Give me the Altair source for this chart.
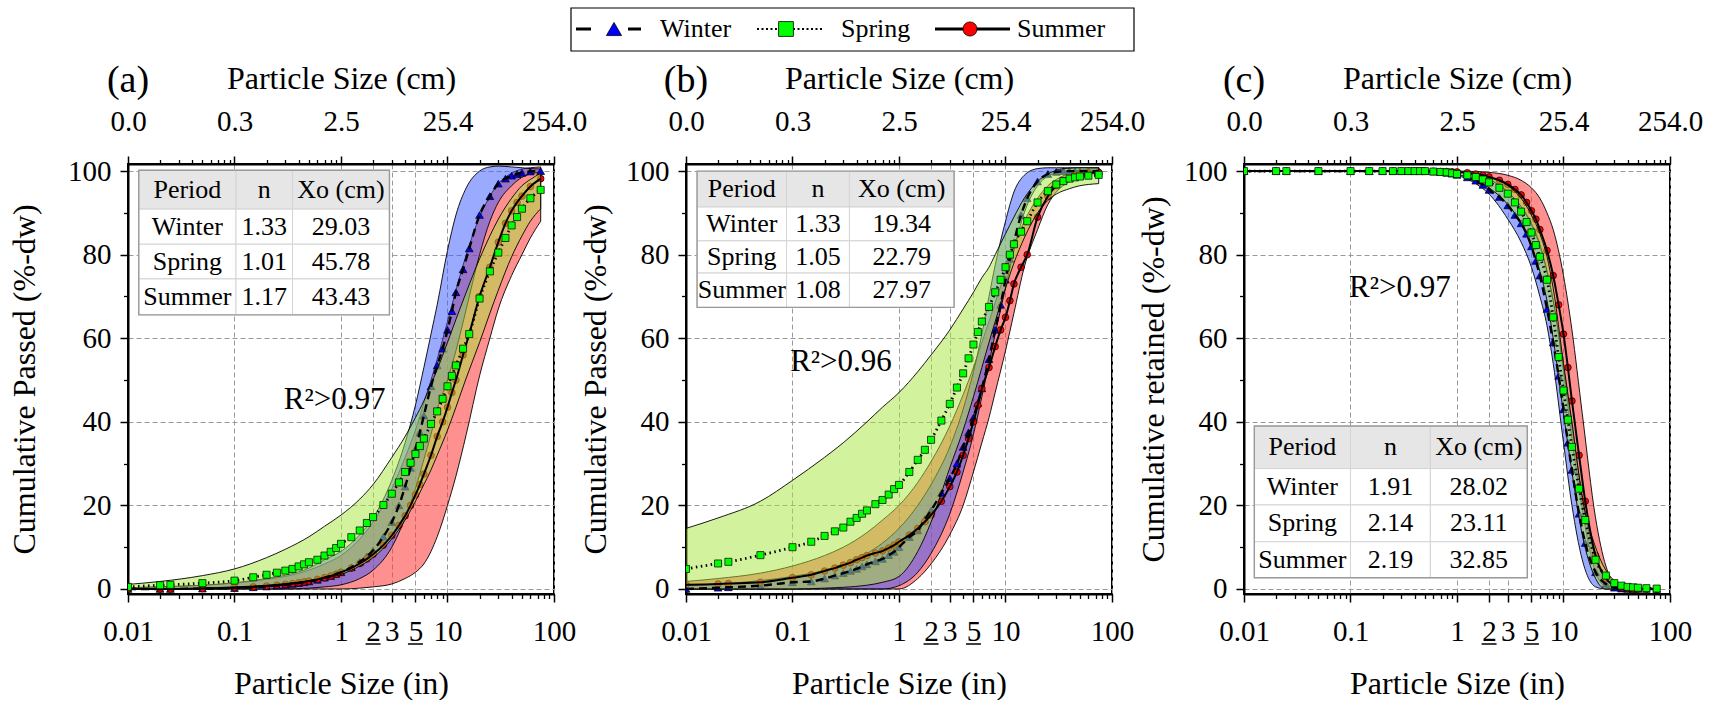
import math
import altair as alt
import pandas as pd

FONT = "Liberation Serif, Times New Roman, Times, DejaVu Serif, serif"
W, H = 426, 430
XDOM = [0.01, 100]
YDOM = [-1.2, 101.7]

# ---------------- data ----------------
x_in = [0.01, 0.02, 0.025, 0.05, 0.1, 0.15, 0.2, 0.25, 0.3, 0.35, 0.4, 0.45, 0.5,
        0.6, 0.7, 0.8, 0.9, 1.0, 1.25, 1.5, 1.75, 2, 2.5, 3, 3.5, 4, 4.5, 5, 5.5, 6,
        7, 8, 9, 10, 11, 12, 14, 16, 20, 25, 30, 35, 40, 45, 50, 60, 75]
band_x = [0.01, 0.02, 0.05, 0.1, 0.2, 0.3, 0.5, 0.7, 1, 1.5, 2, 3, 4, 5, 6, 7, 8,
          10, 12, 15, 20, 25, 30, 40, 50, 60, 75]

# panel (a)
a_winter = [0, 0, 0, 0.1, 0.2, 0.4, 0.6, 0.8, 1.0, 1.2, 1.4, 1.6, 1.8,
            2.2, 2.7, 3.1, 3.6, 4.0, 5.2, 6.5, 7.8, 9.2,
            12.5, 16, 20, 24.5, 29, 33.5, 37.5, 41.5,
            48.5, 53.5, 57.5, 62, 66.5, 71, 76.5, 81.5,
            89.5, 94, 97, 98.2, 98.9, 99.3, 99.6, 99.9, 100]
a_spring = [0.5, 0.9, 1.0, 1.4, 2.0, 2.8, 3.4, 3.9, 4.4, 4.8, 5.4, 5.9, 6.4,
            7.0, 8.0, 8.9, 9.8, 10.8, 12.4, 14.0, 15.8, 17.2,
            20.1, 22.8, 25.5, 28, 30.2, 32.3, 34.2, 36,
            39.5, 42.5, 45.5, 48.5, 51, 53.5, 57.5, 61,
            69.5, 76, 80.5, 84, 87, 89, 91, 93.5, 95.5]
a_summer = [0, 0, 0, 0.1, 0.3, 0.5, 0.7, 0.9, 1.1, 1.3, 1.5, 1.7, 1.9,
            2.3, 2.7, 3.1, 3.5, 4.0, 5.0, 6.1, 7.2, 8.3,
            10.5, 12.8, 15.2, 17.5, 20, 22.5, 25, 27.5,
            32, 36.5, 40, 43.5, 47, 50, 56, 61,
            70, 77, 83, 87.5, 90.5, 92.5, 94, 96.3, 98.2]
a_winter_lo = [0, 0, 0, 0, 0, 0, 0.2, 0.5, 1, 2.5, 4.5, 10, 17, 24, 31, 37, 43, 50, 57, 67, 80, 88, 92.5, 96.5, 98.5, 99.3, 99.7]
a_winter_hi = [0.3, 0.5, 0.9, 1.5, 2.5, 3.3, 5, 7, 9, 13, 17, 26, 35, 44, 53, 61, 68, 81, 89.5, 96, 100, 101, 101.2, 101, 100.8, 100.6, 100.5]
a_spring_lo = [0, 0, 0.2, 0.5, 0.9, 1.3, 2, 2.6, 3.5, 5.5, 7.5, 12, 16.5, 21, 25, 28.5, 32, 38, 43.5, 50.5, 59, 66, 71.5, 79.5, 84.5, 88, 91]
a_spring_hi = [1.1, 1.8, 3.2, 4.8, 7.5, 9.5, 12.5, 15, 17.7, 21.5, 25, 31.5, 36.5, 41, 45, 49, 52.5, 59, 64.5, 71, 79, 84.5, 88.5, 93.5, 96.5, 98, 99.5]
a_summer_lo = [0, 0, 0, 0, 0, 0, 0, 0, 0, 0.2, 0.5, 1.2, 2.5, 4, 6, 9, 12.5, 20, 27, 37, 51, 60, 67, 75, 80, 84, 88]
a_summer_hi = [0.3, 0.5, 0.9, 1.4, 2.3, 3, 4.5, 6, 8, 12, 16, 24, 31.5, 38, 44.5, 50, 55, 64, 71.5, 80, 89, 94, 97, 99.5, 100.5, 100.8, 101]

# panel (b)
b_winter = [0, 0.3, 0.4, 0.8, 1.6, 1.8, 2.5, 3.2, 3.8, 4.3, 4.8, 5.4, 5.9,
            6.6, 7.2, 8.1, 8.9, 10, 12.4, 14, 16.7, 18.8,
            23, 26.5, 30, 34, 37.5, 41, 44.5, 48,
            55, 62, 68, 74, 79, 83, 89.5, 93.5,
            97.5, 99.3, 99.8, 100, 100, 100, 100, 100, 100]
b_spring = [4.8, 6.1, 6.5, 8.1, 10, 11.3, 12.7, 13.8, 14.7, 16.1, 17, 18, 18.8,
            20.3, 21.3, 22.6, 23.9, 24.9, 28, 30.9, 33.3, 35.7,
            40.3, 44.3, 48.2, 51.6, 55.2, 58.5, 61.5, 64,
            67.5, 71, 74, 77, 80, 82.5, 85.5, 88,
            92.5, 95.2, 96.8, 97.6, 98.2, 98.5, 98.7, 98.9, 99.1]
b_summer = [1.0, 1.2, 1.3, 1.6, 2.7, 3.4, 4.3, 5.0, 5.7, 6.3, 7.0, 7.5, 8.0,
            8.6, 9.1, 9.8, 10.5, 11.3, 12.9, 14.5, 16.1, 17.7,
            21, 24.5, 28, 32, 36, 40, 44, 48,
            53, 58, 62, 65, 69, 73, 77, 80,
            89, 94, 96.5, 97.8, 98.5, 99, 99.2, 99.5, 99.7]
b_winter_lo = [0, 0, 0, 0, 0, 0, 0, 0, 0.8, 4, 8.5, 18, 28, 37, 46, 54, 61, 72, 81, 90, 96.5, 98.8, 99.6, 100, 100, 100, 100]
b_winter_hi = [0.8, 1.2, 2, 3, 4.5, 6, 8.5, 11, 14.5, 20, 25, 34, 43, 52, 61, 70, 77.5, 88, 95, 99, 100.6, 100.8, 100.8, 100.8, 100.8, 100.8, 100.8]
b_spring_lo = [0, 0, 0, 0, 0.2, 0.4, 0.9, 1.6, 3, 9, 16, 29, 38, 46, 53, 59, 64, 72, 78, 84, 90, 93, 94.5, 95.8, 96.5, 96.8, 97]
b_spring_hi = [14.5, 17, 21, 26, 31.5, 35, 40, 43.5, 47, 52, 56, 62, 67, 71, 74.5, 77, 80, 85, 89, 93.5, 97.5, 99.3, 100.2, 100.7, 100.8, 100.8, 100.8]
b_summer_lo = [0, 0, 0, 0, 0, 0, 0, 0, 0, 2.5, 6, 13, 20, 28, 35, 41, 47, 57, 66, 77, 86, 92, 95, 97.5, 98.8, 99.3, 99.6]
b_summer_hi = [1.8, 2.5, 3.8, 5.5, 8, 10, 13.5, 16.5, 20, 25.5, 30.5, 39, 46.5, 53, 59, 64, 68.5, 76, 82, 88, 93.5, 96.5, 98, 99.5, 100.2, 100.5, 100.7]

# panel (c)
c_winter = [100, 100, 100, 100, 100, 100, 100, 100, 100, 100, 100, 100, 100,
            99.9, 99.8, 99.6, 99.4, 99.1, 98.5, 97.7, 96.7, 95.5,
            93.8, 91.8, 89.5, 87.5, 85, 82, 78.5, 75,
            67, 59, 51, 43, 35, 28.5, 18, 11,
            4, 1.2, 0.3, 0.1, 0, 0, 0, 0, 0]
c_spring = [100, 100, 100, 100, 100, 100, 100, 100, 100, 100, 100, 100, 100,
            99.9, 99.8, 99.7, 99.5, 99.3, 99, 98.6, 98, 97.3,
            96, 94.6, 92.5, 90.3, 87.8, 85.3, 82.3, 79.5,
            74, 65, 55.5, 47.5, 40.5, 34, 24, 16.5,
            7, 3.2, 1.4, 0.8, 0.5, 0.4, 0.3, 0.2, 0.1]
c_summer = [100, 100, 100, 100, 100, 100, 100, 100, 100, 100, 100, 100, 100,
            99.95, 99.9, 99.9, 99.85, 99.8, 99.6, 99.3, 99, 98.6,
            97.8, 96.8, 95.6, 94.3, 92.5, 90.5, 88.5, 86,
            81, 75, 68, 61, 53, 45, 32, 21,
            8, 2.5, 0.8, 0.3, 0.1, 0, 0, 0, 0]
c_winter_lo = [100, 100, 100, 100, 100, 100, 99.9, 99.7, 99, 97, 94.5, 88.5, 83, 77, 70, 63, 54, 35, 20, 7, 0.5, 0, 0, 0, 0, 0, 0]
c_winter_hi = [100, 100, 100, 100, 100, 100, 100, 100, 99.8, 99, 98, 95, 91.5, 87.5, 82.5, 76, 69, 53, 39, 22, 7.5, 2.5, 0.8, 0, 0, 0, 0]
c_spring_lo = [100, 100, 100, 100, 100, 100, 100, 99.8, 99.2, 97.8, 96, 92, 87.5, 82, 76, 69, 60, 42, 28, 13, 2.5, 0, 0, 0, 0, 0, 0]
c_spring_hi = [100, 100, 100, 100, 100, 100, 100, 100, 99.8, 99.2, 98.5, 96.5, 93.5, 89.5, 85, 79.5, 72, 54, 40, 22, 10, 4.5, 2, 0.6, 0.2, 0.1, 0]
c_summer_lo = [100, 100, 100, 100, 100, 100, 100, 100, 99.7, 99, 98, 95, 91.5, 87, 82, 76, 69, 52, 36, 19, 4, 0.5, 0, 0, 0, 0, 0]
c_summer_hi = [100, 100, 100, 100, 100, 100, 100, 100, 100, 99.9, 99.7, 99, 97.8, 96, 93.5, 90, 86, 75, 62, 42, 17, 5.5, 1.5, 0.2, 0, 0, 0]

# table contents
periods = ["Winter", "Spring", "Summer"]
table_head = ["Period", "n", "Xo (cm)"]
n_a = [1.33, 1.01, 1.17]
xo_a = [29.03, 45.78, 43.43]
n_b = [1.33, 1.05, 1.08]
xo_b = [19.34, 22.79, 27.97]
n_c = [1.91, 2.14, 2.19]
xo_c = [28.02, 23.11, 32.85]

# ticks
bottom_major = [0.01, 0.1, 1, 2, 3, 5, 10, 100]
underlined = [2, 5]
top_major = [0.01, 0.1, 1, 10, 100]
y_major = [0, 20, 40, 60, 80, 100]
y_minor = [10, 30, 50, 70, 90]

# ---------------- layout / style ----------------
top_minor = [round(k * 10 ** d, 6) for d in range(-2, 2) for k in range(2, 10)]
bottom_minor = [v for v in top_minor if v not in bottom_major]

WINTER_BAND = "#3355ff"
SPRING_BAND = "#a8e63c"
SUMMER_BAND = "#ff3535"
PX_PER_DECADE = W / 4.0

xsc = alt.Scale(type="log", domain=XDOM, nice=False)
ysc = alt.Scale(domain=YDOM, nice=False, zero=False)


def X(f="x"):
    return alt.X(f"{f}:Q", scale=xsc, axis=None)


def Y(f="y"):
    return alt.Y(f"{f}:Q", scale=ysc, axis=None)


dummy = pd.DataFrame({"x": [0.01, 100.0], "y": [0.0, 100.0]})
one = pd.DataFrame({"k": [0]})

common = dict(labelFont=FONT, titleFont=FONT, labelColor="black", titleColor="black",
              titleFontWeight="normal", tickColor="black", domainColor="black")


def axis_layers(ytitle, ytitle_pad):
    major = alt.Chart(dummy).mark_point(opacity=0).encode(
        x=alt.X("x:Q", scale=xsc, axis=alt.Axis(
            orient="bottom", values=bottom_major, labelExpr="format(datum.value, '~g')",
            title="Particle Size (in)", grid=True, gridDash=[5, 3], gridColor="#9a9a9a",
            tickSize=8, tickWidth=1.5, labelFontSize=29, titleFontSize=32, labelPadding=15,
            titlePadding=22, labelFlush=False, labelOverlap=False, domainWidth=2, **common)),
        y=alt.Y("y:Q", scale=ysc, axis=alt.Axis(
            orient="left", values=y_major, title=ytitle, grid=True, gridDash=[5, 3],
            gridColor="#9a9a9a", tickSize=8, tickWidth=1.5, labelFontSize=29, titleFontSize=32,
            labelPadding=9, titlePadding=ytitle_pad, domainWidth=2, labelFlush=False, **common)),
    )
    bminor = alt.Chart(dummy).mark_point(opacity=0).encode(
        x=alt.X("x:Q", scale=xsc, axis=alt.Axis(
            orient="bottom", values=bottom_minor, labels=False, title=None, grid=False,
            domain=False, tickSize=4.5, tickWidth=1.3, tickColor="black")),
        y=alt.Y("y:Q", scale=ysc, axis=alt.Axis(
            orient="left", values=y_minor, labels=False, title=None, grid=False,
            domain=False, tickSize=4.5, tickWidth=1.3, tickColor="black")),
    )
    top = alt.Chart(dummy).mark_point(opacity=0).encode(
        x=alt.X("x:Q", scale=xsc, axis=alt.Axis(
            orient="top", values=top_major, labelExpr="format(datum.value * 2.54, '.1f')",
            title="Particle Size (cm)", grid=False, tickSize=8, tickWidth=1.5,
            labelFontSize=29, titleFontSize=32, labelPadding=20, titlePadding=12,
            labelFlush=False, labelOverlap=False, domainWidth=2, **common)),
        y=alt.Y("y:Q", scale=ysc, axis=None),
    )
    tminor = alt.Chart(dummy).mark_point(opacity=0).encode(
        x=alt.X("x:Q", scale=xsc, axis=alt.Axis(
            orient="top", values=top_minor, labels=False, title=None, grid=False,
            domain=False, tickSize=4.5, tickWidth=1.3, tickColor="black")),
        y=alt.Y("y:Q", scale=ysc, axis=None),
    )
    half = 10 ** (7.5 / PX_PER_DECADE)
    udf = pd.DataFrame({"x": [v / half for v in underlined], "x2": [v * half for v in underlined]})
    under = alt.Chart(udf).mark_rule(color="black", strokeWidth=1.5).encode(
        x=X("x"), x2="x2:Q", y=alt.value(H + 50))
    return [major, bminor, top, tminor, under]


def band(lo, hi, color, op):
    df = pd.DataFrame({"x": band_x, "lo": lo, "hi": hi})
    return alt.Chart(df).mark_area(
        color=color, fillOpacity=op, stroke="black", strokeWidth=0.9,
        interpolate="monotone", clip=True
    ).encode(x=X(), y=Y("lo"), y2=alt.Y2("hi:Q"))


def points(yv, shape, fill, size):
    df = pd.DataFrame({"x": x_in, "y": yv})
    return alt.Chart(df).mark_point(
        shape=shape, filled=True, fill=fill, stroke="black", strokeWidth=0.7,
        size=size, opacity=1, clip=True
    ).encode(x=X(), y=Y())


def line(yv, width, dash=None):
    df = pd.DataFrame({"x": x_in, "y": yv})
    kw = dict(color="black", strokeWidth=width, interpolate="monotone", clip=True)
    if dash is not None:
        kw["strokeDash"] = dash
    return alt.Chart(df).mark_line(**kw).encode(x=X(), y=Y())


def table_layers(n_vals, xo_vals, xs, ys):
    rows = [table_head] + [[p, f"{n:.2f}", f"{xo:.2f}"] for p, n, xo in zip(periods, n_vals, xo_vals)]
    recs = []
    for r in range(4):
        for c in range(3):
            recs.append(dict(x=xs[c], x2=xs[c + 1], y=ys[r], y2=ys[r + 1],
                             cx=math.sqrt(xs[c] * xs[c + 1]), cy=(ys[r] + ys[r + 1]) / 2,
                             label=rows[r][c], head=(r == 0)))
    df = pd.DataFrame(recs)
    cells = alt.Chart(df).mark_rect(stroke="#d4d4d4", strokeWidth=1).encode(
        x=X("x"), x2="x2:Q", y=Y("y"), y2="y2:Q",
        fill=alt.condition("datum.head", alt.value("#e6e6e6"), alt.value("white")))
    bdf = pd.DataFrame({"x": [xs[0]], "x2": [xs[-1]], "y": [ys[0]], "y2": [ys[-1]]})
    border = alt.Chart(bdf).mark_rect(filled=False, stroke="#9a9a9a", strokeWidth=1.4).encode(
        x=X("x"), x2="x2:Q", y=Y("y"), y2="y2:Q")
    txt = alt.Chart(df).mark_text(font=FONT, fontSize=26, color="black", align="center",
                                  baseline="middle").encode(x=X("cx"), y=Y("cy"), text="label:N")
    return [cells, border, txt]


def legend_chart():
    # positions are relative to the origin of the first panel's plot area
    ly = 23
    out = [alt.Chart(one).mark_rect(fill="white", stroke="black", strokeWidth=1.2).encode(
        x=alt.value(443), x2=alt.value(1006), y=alt.value(2), y2=alt.value(45))]
    out.append(alt.Chart(one).mark_rule(color="black", strokeWidth=3, strokeDash=[15, 37]).encode(
        x=alt.value(448), x2=alt.value(513), y=alt.value(ly)))
    out.append(alt.Chart(one).mark_point(shape="triangle-up", filled=True, fill="#0000ff", stroke="black",
                                         strokeWidth=0.8, size=230, opacity=1).encode(
        x=alt.value(486), y=alt.value(ly)))
    out.append(alt.Chart(one).mark_rule(color="black", strokeWidth=2, strokeDash=[2, 2.5]).encode(
        x=alt.value(629), x2=alt.value(694), y=alt.value(ly)))
    out.append(alt.Chart(one).mark_point(shape="square", filled=True, fill="#00ff00", stroke="black",
                                         strokeWidth=0.8, size=220, opacity=1).encode(
        x=alt.value(658), y=alt.value(ly)))
    out.append(alt.Chart(one).mark_rule(color="black", strokeWidth=3).encode(
        x=alt.value(807), x2=alt.value(882), y=alt.value(ly)))
    out.append(alt.Chart(one).mark_point(shape="circle", filled=True, fill="#ff0000", stroke="black",
                                         strokeWidth=0.8, size=200, opacity=1).encode(
        x=alt.value(842), y=alt.value(ly)))
    for name, tx in zip(periods, [532, 713, 889]):
        out.append(alt.Chart(one).mark_text(font=FONT, fontSize=26, align="left", baseline="middle",
                                            color="black").encode(
            x=alt.value(tx), y=alt.value(ly), text=alt.value(name)))
    return alt.layer(*out).properties(width=1010, height=46)


def make_panel(w, s, u, wb, sb, ub, n_vals, xo_vals, tab_xs, tab_ys, r2_label, r2_x, r2_y,
               ytitle, ytitle_pad, letter):
    layers = axis_layers(ytitle, ytitle_pad)
    layers += [band(ub[0], ub[1], SUMMER_BAND, 0.55), band(wb[0], wb[1], WINTER_BAND, 0.5)]
    layers += [points(w, "triangle-up", "#0000ff", 60), points(u, "circle", "#ff0000", 45)]
    layers += [band(sb[0], sb[1], SPRING_BAND, 0.5)]
    layers += [line(w, 2.4, [8, 5]), line(u, 2), line(s, 2.8, [1.5, 3.5])]
    layers += [points(s, "square", "#00ff00", 50)]
    layers += table_layers(n_vals, xo_vals, tab_xs, tab_ys)
    r2df = pd.DataFrame({"x": [r2_x], "y": [r2_y], "t": [r2_label]})
    layers.append(alt.Chart(r2df).mark_text(font=FONT, fontSize=31, align="left", baseline="middle",
                                            color="black").encode(x=X(), y=Y(), text="t:N"))
    layers.append(alt.Chart(one).mark_text(font=FONT, fontSize=38, align="center", baseline="middle",
                                           color="black").encode(
        x=alt.value(0), y=alt.value(-83), text=alt.value(letter)))
    return alt.layer(*layers).resolve_axis(x="independent", y="independent").properties(
        width=W, height=H, view=alt.ViewBackground(stroke="black", strokeWidth=2))


pa = make_panel(a_winter, a_spring, a_summer,
                (a_winter_lo, a_winter_hi), (a_spring_lo, a_spring_hi), (a_summer_lo, a_summer_hi),
                n_a, xo_a, [0.01262, 0.1033, 0.3508, 2.851], [100.2, 90.9, 82.5, 74.2, 65.6],
                "R²>0.97", 0.29, 45.3, "Cumulative Passed (%-dw)", 26, "(a)")
pb = make_panel(b_winter, b_spring, b_summer,
                (b_winter_lo, b_winter_hi), (b_spring_lo, b_spring_hi), (b_summer_lo, b_summer_hi),
                n_b, xo_b, [0.0127, 0.0879, 0.3425, 3.29], [100.0, 91.4, 83.3, 75.6, 67.4],
                "R²>0.96", 0.095, 54.3, "Cumulative Passed (%-dw)", 13, "(b)")
pc = make_panel(c_winter, c_spring, c_summer,
                (c_winter_lo, c_winter_hi), (c_spring_lo, c_spring_hi), (c_summer_lo, c_summer_hi),
                n_c, xo_c, [0.0125, 0.1, 0.5623, 4.57], [39.0, 28.8, 20.1, 11.3, 2.7],
                "R²>0.97", 0.097, 72, "Cumulative retained (%-dw)", 13, "(c)")

panels = alt.hconcat(pa, pb, pc, spacing=-10)
chart = alt.vconcat(legend_chart(), panels, spacing=8).properties(
    padding={"left": 7, "top": 5, "right": 0, "bottom": 0}, background="white"
).configure_view(stroke="transparent").configure_text(font=FONT)

chart.save("out.html", embed_options={"renderer": "svg", "actions": False})
